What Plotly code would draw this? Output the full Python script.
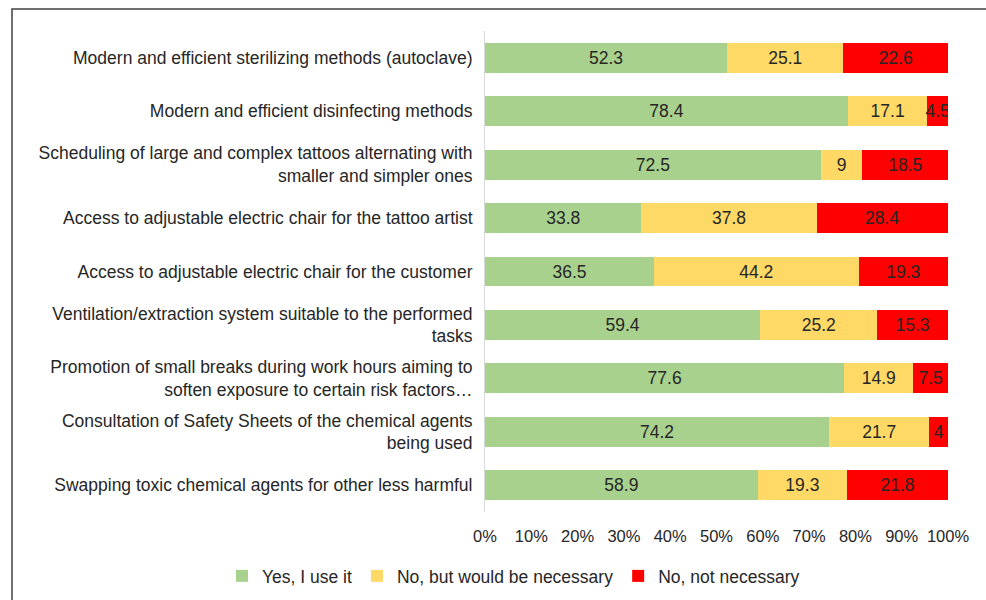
import plotly.graph_objects as go

categories = [
    "Modern and efficient sterilizing methods (autoclave)",
    "Modern and efficient disinfecting methods",
    "Scheduling of large and complex tattoos alternating with<br>smaller and simpler ones",
    "Access to adjustable electric chair for the tattoo artist",
    "Access to adjustable electric chair for the customer",
    "Ventilation/extraction system suitable to the performed<br>tasks",
    "Promotion of small breaks during work hours aiming to<br>soften exposure to certain risk factors…",
    "Consultation of Safety Sheets of the chemical agents<br>being used",
    "Swapping toxic chemical agents for other less harmful",
]
yes_use = [52.3, 78.4, 72.5, 33.8, 36.5, 59.4, 77.6, 74.2, 58.9]
no_but_necessary = [25.1, 17.1, 9, 37.8, 44.2, 25.2, 14.9, 21.7, 19.3]
no_not_necessary = [22.6, 4.5, 18.5, 28.4, 19.3, 15.3, 7.5, 4, 21.8]
series_names = ["Yes, I use it", "No, but would be necessary", "No, not necessary"]
colors = ["#A9D18E", "#FFD966", "#FF0000"]
tick_vals = [0, 10, 20, 30, 40, 50, 60, 70, 80, 90, 100]

FONT = "Liberation Sans, Arial, sans-serif"
TXT = "#262626"

fig = go.Figure()
for name, vals, col in zip(series_names, [yes_use, no_but_necessary, no_not_necessary], colors):
    fig.add_trace(go.Bar(
        y=categories, x=vals, name=name, orientation="h",
        marker=dict(color=col, line=dict(width=0)),
        text=[f"{v:g}" for v in vals], textposition="inside",
        insidetextanchor="middle", constraintext="none", textangle=0,
        textfont=dict(family=FONT, size=17.5, color=TXT),
        hoverinfo="x+y",
    ))

L, R, T, B = 485, 38, 31, 88
W, H = 986, 600
pw, ph = W - L - R, H - T - B

fig.update_layout(
    barmode="stack", barnorm="percent", bargap=0.44,
    width=W, height=H,
    margin=dict(l=L, r=R, t=T, b=B, pad=0, autoexpand=False),
    paper_bgcolor="white", plot_bgcolor="white",
    font=dict(family=FONT, size=17.5, color=TXT),
    xaxis=dict(range=[0, 100], tickvals=tick_vals, ticktext=[f"{v}%" for v in tick_vals],
               showgrid=False, zeroline=False, showline=False, ticks="",
               tickfont=dict(size=16.5, color=TXT), ticklabelstandoff=12, fixedrange=True,
               automargin=False),
    yaxis=dict(autorange="reversed", showgrid=False, zeroline=False,
               showline=True, linecolor="#D9D9D9", linewidth=1, ticks="",
               tickfont=dict(size=17.5, color=TXT), ticklabelstandoff=8, fixedrange=True,
               automargin=False),
    legend=dict(orientation="h", xref="paper", yref="paper",
                x=(222 - L) / pw, xanchor="left",
                y=(T + ph - 576) / ph, yanchor="middle",
                font=dict(size=17.5, color=TXT), itemwidth=30,
                traceorder="normal", bgcolor="rgba(0,0,0,0)"),
    shapes=[dict(type="rect", xref="paper", yref="paper",
                 x0=(12 - L) / pw, x1=1.2, y0=-0.3, y1=1 + (T - 9) / ph,
                 line=dict(color="#404040", width=1.5), layer="below")],
    showlegend=True,
)

fig.write_html("out.html")
